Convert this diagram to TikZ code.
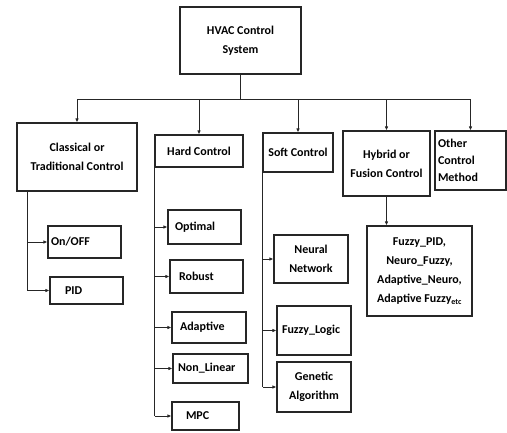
\documentclass[tikz,border=0pt]{standalone}
\usepackage{fontspec}
\setmainfont{Carlito}
\usetikzlibrary{arrows.meta}
\begin{document}
\begin{tikzpicture}[x=1pt,y=-1pt,
  box/.style={draw=black!85, line width=1.1pt, inner sep=0pt, align=center,
    font=\bfseries\fontsize{12}{19}\selectfont},
  lb/.style={align=left},
  conn/.style={draw=black!85, line width=0.9pt},
  arr/.style={conn, -{Latex[length=4pt,width=3.5pt]}}]
\useasboundingbox (0,0) rectangle (507,432);
% top
\node[box, minimum width=121, minimum height=67] (root) at (240.5,40.5) {HVAC Control\\System};
\node[box, minimum width=120, minimum height=68] (cls) at (77,157) {Classical or\\Traditional Control};
\node[box, minimum width=88, minimum height=32] (hard) at (199,151) {Hard Control};
\node[box, minimum width=70, minimum height=39] (soft) at (298,152.5) {Soft Control};
\node[box, minimum width=87, minimum height=65] (hyb) at (386.5,163.5) {Hybrid or\\Fusion Control};
\node[box, lb, inner xsep=3, text width=65, minimum height=59, font=\bfseries\fontsize{12}{17}\selectfont] (oth) at (470.5,160.5) {Other\\Control\\Method};
% classical
\node[box, lb, inner xsep=3, text width=67, minimum height=32] (onoff) at (84.5,242) {On/OFF};
\node[box, lb, inner xsep=15, text width=43, minimum height=27] (pid) at (86.5,290.5) {PID};
% hard
\node[box, lb, inner xsep=7, text width=59, minimum height=34] (opt) at (204.5,227) {Optimal};
\node[box, lb, inner xsep=9, text width=55, minimum height=33] (rob) at (206.5,276.5) {Robust};
\node[box, lb, inner xsep=8, text width=58, minimum height=31] (ada) at (209,327.5) {Adaptive};
\node[box, lb, inner xsep=5, text width=65, minimum height=29] (nl) at (210.5,368.5) {Non\_Linear};
\node[box, lb, inner xsep=14, text width=39, minimum height=28] (mpc) at (205.5,416) {MPC};
% soft
\node[box, minimum width=74, minimum height=48] (nn) at (311,259) {Neural\\Network};
\node[box, lb, inner xsep=5, text width=64, minimum height=49] (fl) at (314,330.5) {Fuzzy\_Logic};
\node[box, minimum width=74, minimum height=50] (ga) at (314,387) {Genetic\\Algorithm};
% hybrid
\node[box, minimum width=105, minimum height=90] (list) at (419.5,271) {Fuzzy\_PID,\\Neuro\_Fuzzy,\\Adaptive\_Neuro,\\Adaptive Fuzzy\textsubscript{etc}};
% connectors
\coordinate (bus) at (0,99);
\draw[conn] (root.south) -- (root.south |- bus);
\draw[conn] (cls.north |- bus) -- (oth.north |- bus);
\foreach \n in {cls,hard,soft,hyb,oth} \draw[arr] (\n.north |- bus) -- (\n.north);
\coordinate (cl) at (27.5,191);
\draw[conn] (cl) -- (cl |- pid.west);
\draw[arr] (cl |- onoff.west) -- (onoff.west);
\draw[arr] (cl |- pid.west) -- (pid.west);
\coordinate (hl) at (154.5,167);
\draw[conn] (hl) -- (hl |- mpc.west);
\foreach \n in {opt,rob,ada,nl,mpc} \draw[arr] (hl |- \n.west) -- (\n.west);
\coordinate (sl) at (262.5,172);
\draw[conn] (sl) -- (sl |- ga.west);
\foreach \n in {nn,fl,ga} \draw[arr] (sl |- \n.west) -- (\n.west);
\draw[arr] (hyb.south) -- (hyb.south |- list.north);
\end{tikzpicture}
\end{document}
